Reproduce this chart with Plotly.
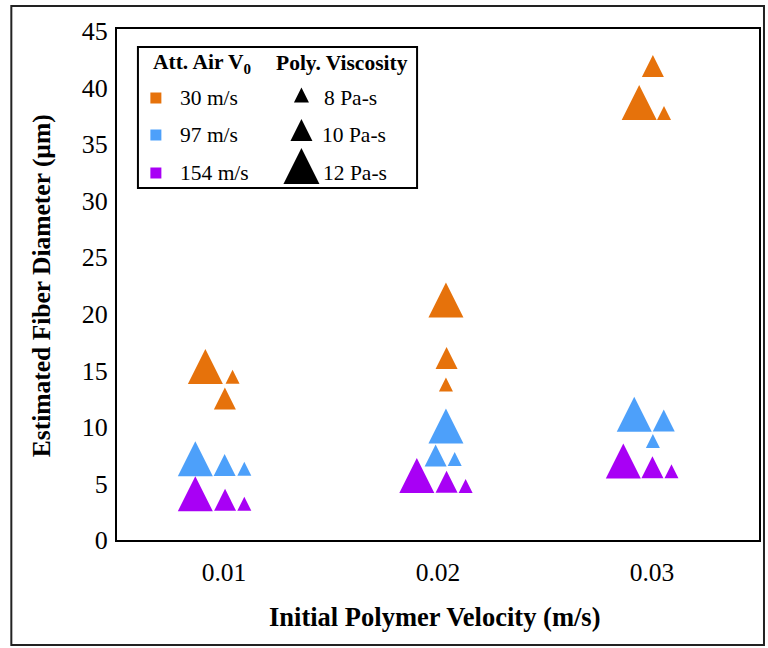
import plotly.graph_objects as go

# ---------------- data ----------------
velocity_ticks = [0.01, 0.02, 0.03]
velocity_labels = ["0.01", "0.02", "0.03"]
air_labels = ["30 m/s", "97 m/s", "154 m/s"]
visc_labels = ["8 Pa-s", "10 Pa-s", "12 Pa-s"]

# each list: 0.01 cluster, 0.02 cluster, 0.03 cluster (x slightly offset inside each cluster)
x_30_12 = [0.00913, 0.02037, 0.02940]
d_30_12 = [15.35, 21.24, 38.70]
x_30_10 = [0.01004, 0.02040, 0.03004]
d_30_10 = [12.51, 16.09, 41.92]
x_30_8 = [0.01040, 0.02037, 0.03056]
d_30_8 = [14.44, 13.76, 37.78]

x_97_12 = [0.00866, 0.02037, 0.02917]
d_97_12 = [7.18, 10.08, 11.13]
x_97_10 = [0.01003, 0.01989, 0.03055]
d_97_10 = [6.64, 7.48, 10.57]
x_97_8 = [0.01095, 0.02078, 0.03004]
d_97_8 = [6.30, 7.17, 8.76]

x_154_12 = [0.00866, 0.01901, 0.02866]
d_154_12 = [4.09, 5.70, 6.98]
x_154_10 = [0.01005, 0.02040, 0.03002]
d_154_10 = [3.55, 5.15, 6.43]
x_154_8 = [0.01095, 0.02129, 0.03091]
d_154_8 = [3.21, 4.78, 6.09]

# ---------------- style ----------------
FONT = "Times New Roman, Liberation Serif, serif"
colors = {"30": "#E6720B", "97": "#4DA0FA", "154": "#A800F5"}
sizes = {"8": 14, "10": 22, "12": 35}

W, H = 768, 648
L, R, T, B = 117, 7, 29, 108
PW, PH = W - L - R, H - T - B


def fx(px):
    return (px - L) / PW


def fy(py):
    return (H - B - py) / PH


series = [
    ("30", "12", x_30_12, d_30_12), ("30", "10", x_30_10, d_30_10), ("30", "8", x_30_8, d_30_8),
    ("97", "12", x_97_12, d_97_12), ("97", "10", x_97_10, d_97_10), ("97", "8", x_97_8, d_97_8),
    ("154", "12", x_154_12, d_154_12), ("154", "10", x_154_10, d_154_10), ("154", "8", x_154_8, d_154_8),
]

fig = go.Figure()
for air, visc, xs, ds in series:
    s = sizes[visc]
    fig.add_trace(go.Scatter(
        x=xs, y=ds, mode="markers", showlegend=False,
        name=f"{air} m/s, {visc} Pa-s",
        marker=dict(symbol="arrow-down", angle=180, standoff=s / 2, size=s, opacity=1,
                    color=colors[air], line=dict(width=0)),
        xaxis="x", yaxis="y",
    ))

# ---------------- legend key (drawn on an overlay axis in paper fractions) ----------------
sq_x = fx(156)
row_y = [98, 135, 173]
tri_x = fx(302)
tri_y = [95, 130, 166]
leg_tri_sizes = [15, 22, 36]
fig.add_trace(go.Scatter(
    x=[sq_x] * 3, y=[fy(v) for v in row_y], mode="markers", showlegend=False, hoverinfo="skip",
    marker=dict(symbol="square", size=11, opacity=1,
                color=[colors["30"], colors["97"], colors["154"]]),
    xaxis="x2", yaxis="y2"))
fig.add_trace(go.Scatter(
    x=[tri_x] * 3, y=[fy(v) for v in tri_y], mode="markers", showlegend=False, hoverinfo="skip",
    marker=dict(symbol="arrow-down", angle=180, standoff=[s / 2 for s in leg_tri_sizes],
                size=leg_tri_sizes, opacity=1, color="#000000", line=dict(width=0)),
    xaxis="x2", yaxis="y2"))

annotations = []
leg_font = dict(family=FONT, size=21.5, color="black")
annotations.append(dict(text="<b>Att. Air V<sub>0</sub></b>", x=fx(151), y=fy(63), xref="paper", yref="paper",
                        xanchor="left", yanchor="middle", showarrow=False, font=leg_font))
annotations.append(dict(text="<b>Poly. Viscosity</b>", x=fx(274), y=fy(63), xref="paper", yref="paper",
                        xanchor="left", yanchor="middle", showarrow=False, font=leg_font))
for lab, yy in zip(air_labels, row_y):
    annotations.append(dict(text=lab, x=fx(178), y=fy(yy), xref="paper", yref="paper",
                            xanchor="left", yanchor="middle", showarrow=False, font=leg_font))
for lab, yy, xx in zip(visc_labels, row_y, [323, 321, 322]):
    annotations.append(dict(text=lab, x=fx(xx), y=fy(yy), xref="paper", yref="paper",
                            xanchor="left", yanchor="middle", showarrow=False, font=leg_font))

# axis titles
annotations.append(dict(text="<b>Estimated Fiber Diameter (µm)</b>", x=fx(41), y=fy(286),
                        xref="paper", yref="paper", textangle=-90, xanchor="center", yanchor="middle",
                        showarrow=False, font=dict(family=FONT, size=25.5, color="black")))
annotations.append(dict(text="<b>Initial Polymer Velocity (m/s)</b>", x=fx(435), y=fy(617),
                        xref="paper", yref="paper", xanchor="center", yanchor="middle",
                        showarrow=False, font=dict(family=FONT, size=26.5, color="black")))

shapes = [
    # legend box
    dict(type="rect", xref="paper", yref="paper", x0=fx(138), x1=fx(418), y0=fy(188), y1=fy(47),
         line=dict(color="black", width=2), fillcolor="rgba(0,0,0,0)", layer="above"),
    # outer figure border
    dict(type="rect", xref="paper", yref="paper", x0=fx(11), x1=fx(766), y0=fy(645), y1=fy(6),
         line=dict(color="#222222", width=2), fillcolor="rgba(0,0,0,0)"),
]

fig.update_layout(
    width=W, height=H,
    margin=dict(l=L, r=R, t=T, b=B),
    paper_bgcolor="white", plot_bgcolor="white",
    font=dict(family=FONT, color="black"),
    showlegend=False,
    xaxis=dict(range=[0.005, 0.035], tickvals=velocity_ticks, ticktext=velocity_labels,
               showgrid=False, zeroline=False, ticks="", showline=True, mirror=True,
               linecolor="black", linewidth=2, tickfont=dict(family=FONT, size=25.5, color="black"),
               ticklabelstandoff=8),
    yaxis=dict(range=[0, 45.2], dtick=5, showgrid=False, zeroline=False, ticks="",
               showline=True, mirror=True, linecolor="black", linewidth=2,
               tickfont=dict(family=FONT, size=26, color="black"), ticklabelstandoff=2),
    xaxis2=dict(domain=[0, 1], range=[0, 1], visible=False, anchor="y2", overlaying="x"),
    yaxis2=dict(domain=[0, 1], range=[0, 1], visible=False, anchor="x2", overlaying="y"),
    annotations=annotations,
    shapes=shapes,
)

fig.write_html("out.html", config={"displayModeBar": False},
               post_script="document.body.style.margin='0px';")
